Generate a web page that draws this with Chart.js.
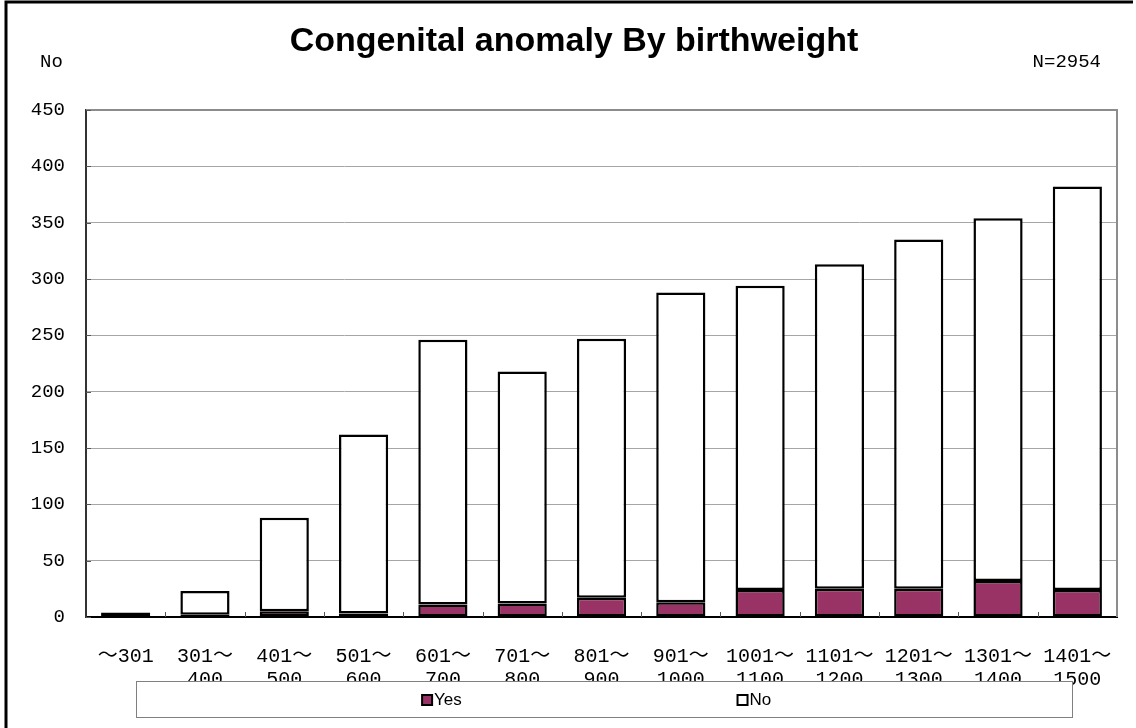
<!DOCTYPE html>
<html>
<head>
<meta charset="utf-8">
<script src="https://cdn.jsdelivr.net/npm/chart.js@4"></script>
<style>
  html, body { margin: 0; padding: 0; background: #fff; }
  #wrap { width: 1136px; height: 728px; }
</style>
</head>
<body>
<div id="wrap"><canvas id="chart" width="1136" height="728"></canvas></div>
<script>
// Birthweight groups (g) and counts per group
const weightGroups = [
  ['～301'], ['301～', '400'], ['401～', '500'], ['501～', '600'], ['601～', '700'],
  ['701～', '800'], ['801～', '900'], ['901～', '1000'], ['1001～', '1100'],
  ['1101～', '1200'], ['1201～', '1300'], ['1301～', '1400'], ['1401～', '1500']
];
const anomalyYes = [0, 2, 5, 3, 11, 12, 17, 13, 24, 25, 25, 32, 24];
const anomalyNo = [4, 21, 83, 159, 235, 206, 230, 275, 270, 288, 310, 322, 358];
const yTicks = [0, 50, 100, 150, 200, 250, 300, 350, 400, 450];

const chartTitle = 'Congenital anomaly By birthweight';
const yTitle = 'No';
const totalLabel = 'N=2954';

const tickFont = "'Liberation Mono', 'Noto Sans CJK JP', monospace";
const plum = '#993366';

// page frame, titles, plot box, inward ticks and the boxed legend
const decorations = {
  id: 'decorations',
  beforeDraw(chart) {
    const ctx = chart.ctx;
    ctx.save();
    ctx.fillStyle = '#fff';
    ctx.fillRect(0, 0, chart.width, chart.height);
    ctx.strokeStyle = '#000';
    ctx.lineWidth = 3;
    ctx.beginPath();
    ctx.moveTo(6, chart.height);
    ctx.lineTo(6, 2);
    ctx.lineTo(1133, 2);
    ctx.stroke();

    ctx.fillStyle = '#000';
    ctx.font = "bold 34px 'Liberation Sans', Arial, sans-serif";
    ctx.textAlign = 'center';
    ctx.textBaseline = 'middle';
    ctx.fillText(chartTitle, 574, 42);

    ctx.font = '19px ' + tickFont;
    ctx.textAlign = 'left';
    ctx.fillText(yTitle, 40, 62);
    ctx.textAlign = 'right';
    ctx.fillText(totalLabel, 1101, 62);
    ctx.restore();
  },
  beforeDatasetsDraw(chart) {
    const { ctx, chartArea: a } = chart;
    ctx.save();
    ctx.strokeStyle = '#8c8c8c';
    ctx.lineWidth = 2;
    ctx.beginPath();
    ctx.moveTo(a.left, a.top);
    ctx.lineTo(a.right, a.top);
    ctx.lineTo(a.right, a.bottom);
    ctx.stroke();
    ctx.restore();
  },
  afterDraw(chart) {
    const { ctx, chartArea: a, scales } = chart;
    ctx.save();
    // inward tick marks
    ctx.strokeStyle = '#555';
    ctx.lineWidth = 1;
    ctx.beginPath();
    yTicks.forEach(v => {
      const y = Math.round(scales.y.getPixelForValue(v)) + 0.5;
      ctx.moveTo(a.left, y);
      ctx.lineTo(a.left + 5, y);
    });
    const step = (a.right - a.left) / weightGroups.length;
    for (let i = 1; i < weightGroups.length; i++) {
      const x = Math.round(a.left + step * i) + 0.5;
      ctx.moveTo(x, a.bottom);
      ctx.lineTo(x, a.bottom - 5);
    }
    ctx.stroke();

    // legend box, laid over the second line of the category labels
    const box = { left: 136, top: 681, right: 1072, bottom: 717 };
    ctx.fillStyle = '#fff';
    ctx.fillRect(box.left, box.top, box.right - box.left, box.bottom - box.top);
    ctx.strokeStyle = '#808080';
    ctx.lineWidth = 1;
    ctx.strokeRect(box.left + 0.5, box.top + 0.5, box.right - box.left, box.bottom - box.top);
    const spots = [0.311, 0.648];
    const midY = (box.top + box.bottom) / 2 + 1;
    ctx.font = "17px 'Liberation Sans', Arial, sans-serif";
    ctx.textAlign = 'left';
    ctx.textBaseline = 'middle';
    chart.data.datasets.forEach((ds, i) => {
      const x = box.left + (box.right - box.left) * spots[i];
      ctx.fillStyle = ds.backgroundColor;
      ctx.fillRect(x - 5, midY - 5, 10, 10);
      ctx.strokeStyle = '#000';
      ctx.lineWidth = 2;
      ctx.strokeRect(x - 5, midY - 5, 10, 10);
      ctx.fillStyle = '#000';
      ctx.fillText(ds.label, x + 7, midY);
    });
    ctx.restore();
  }
};

new Chart(document.getElementById('chart'), {
  type: 'bar',
  data: {
    labels: weightGroups,
    datasets: [
      {
        label: 'Yes',
        data: anomalyYes,
        backgroundColor: plum,
        borderColor: '#000',
        borderWidth: 2.5,
        borderSkipped: false
      },
      {
        label: 'No',
        data: anomalyNo,
        backgroundColor: '#fff',
        borderColor: '#000',
        borderWidth: 2.5,
        borderSkipped: false
      }
    ]
  },
  options: {
    responsive: false,
    animation: false,
    devicePixelRatio: 1,
    layout: { padding: { top: 110, right: 19, left: 0, bottom: 0 } },
    categoryPercentage: 1,
    barPercentage: 0.62,
    plugins: {
      legend: { display: false },
      title: { display: false },
      tooltip: { enabled: false }
    },
    scales: {
      x: {
        stacked: true,
        grid: { display: false, drawTicks: false },
        border: { color: '#000', width: 2 },
        ticks: {
          color: '#000',
          font: { family: tickFont, size: 20, lineHeight: 1.15 },
          padding: 28,
          autoSkip: false,
          maxRotation: 0,
          minRotation: 0
        },
        afterFit(scale) {
          scale.height = 111;
          // the last label may hang past the plot edge
          scale.paddingLeft = 0;
          scale.paddingRight = 0;
        }
      },
      y: {
        stacked: true,
        min: 0,
        max: 450,
        grid: { color: '#a6a6a6', lineWidth: 1, drawTicks: false },
        border: { color: '#333', width: 2 },
        ticks: {
          stepSize: 50,
          color: '#000',
          font: { family: tickFont, size: 19 },
          padding: 21
        },
        afterFit(scale) { scale.width = 86; }
      }
    }
  },
  plugins: [decorations]
});
</script>
</body>
</html>
